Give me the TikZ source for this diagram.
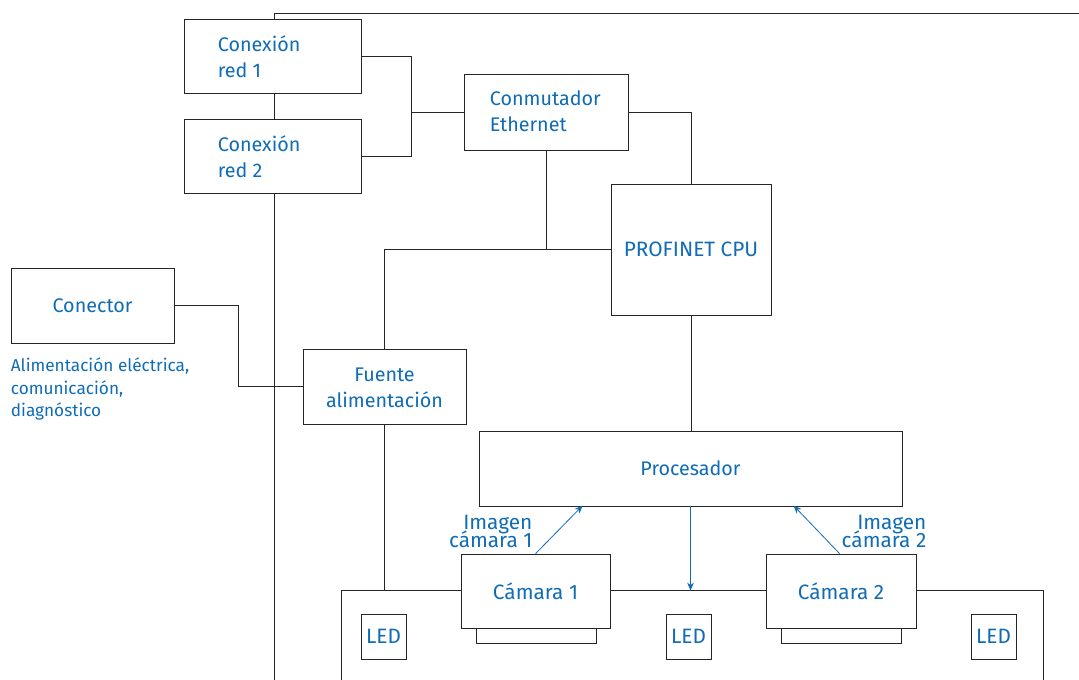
\documentclass[tikz,border=0pt]{standalone}
\usepackage{fontspec}
\setmainfont{Fira Sans}
\usetikzlibrary{arrows.meta}
\definecolor{tblue}{HTML}{0F6CB5}
\tikzset{x=0.75pt,y=-0.75pt,
 box/.style={draw=black!85,line width=0.6pt,fill=white,inner sep=0pt,anchor=north west},
 wire/.style={draw=black!85,line width=0.6pt},
 bwire/.style={draw=tblue,line width=0.6pt,-{Stealth[length=6pt,width=5pt]}},
 txt/.style={text=tblue,font=\fontsize{14.8}{19.5}\selectfont,inner sep=0pt},
 txtw/.style={text=tblue,font=\fontsize{15.6}{19.5}\selectfont,inner sep=0pt},
 lab/.style={text=tblue,font=\fontsize{15.6}{19.5}\selectfont,inner sep=0pt,align=right},
 small/.style={text=tblue,font=\fontsize{12.9}{16.9}\selectfont,inner sep=0pt,align=left,anchor=north west}}
\newcommand{\bx}[5]{\node[box,minimum width=#4*0.75pt,minimum height=#5*0.75pt] (#1) at (#2,#3) {};}
\begin{document}
\begin{tikzpicture}
\useasboundingbox (0.4,0.4) rectangle (1079.4,679.4);
% frame lines
\coordinate (tl) at (275,14); \coordinate (tr) at (1080,14); \coordinate (bl) at (275,680);
\draw[wire] (bl) -- (tl) -- (tr);
\coordinate (la) at (342,680); \coordinate (lb) at (342,591); \coordinate (lc) at (1044,591); \coordinate (ld) at (1044,680);
\draw[wire] (la) -- (lb) -- (lc) -- (ld);
% boxes
\bx{r1}{184}{19}{177}{74}
\bx{r2}{184}{119}{177}{74}
\bx{sw}{464}{74}{164}{76}
\bx{cpu}{611}{184}{160}{131}
\bx{con}{11}{268}{163}{75}
\bx{psu}{303}{349}{163}{75}
\bx{pro}{479}{431}{423}{75}
\bx{lens1}{476}{620}{120}{23}
\bx{lens2}{781}{620}{120}{23}
\bx{cam1}{461}{554}{149}{74}
\bx{cam2}{766}{554}{150}{74}
\bx{led1}{361}{614}{45}{45}
\bx{led2}{666}{614}{45}{45}
\bx{led3}{971}{614}{45}{45}
% box texts
\node[txt,align=left,anchor=west] at (218,57) {Conexión\\red 1};
\node[txt,align=left,anchor=west] at (218,157) {Conexión\\red 2};
\node[txt,align=left,anchor=west] at (490,112) {Conmutador\\Ethernet};
\node[txtw] at (cpu.center) {PROFINET CPU};
\node[txt] at (con.center) {Conector};
\node[txt,align=center] at ([yshift=-1pt]psu.center) {Fuente\\alimentación};
\node[txt] at (pro.center) {Procesador};
\node[txtw] at (cam1.center) {Cámara 1};
\node[txtw] at (cam2.center) {Cámara 2};
\node[txtw] at (led1.center) {LED};
\node[txtw] at (led2.center) {LED};
\node[txtw] at (led3.center) {LED};
\node[small] (note) at (11,358) {Alimentación eléctrica,\\comunicación,\\diagnóstico};
% connectors
\coordinate (xj) at (412,0); \coordinate (xk) at (239,0);
\draw[wire] (r1.east) -| (xj |- r2.east) -- (r2.east);
\draw[wire] (xj |- sw.west) -- (sw.west);
\draw[wire] (sw.east) -| (cpu.north);
\draw[wire] (sw.south) -- (sw.south |- cpu.west);
\draw[wire] (cpu.west) -| (psu.north);
\draw[wire] (con.east) -| (xk |- psu.west) -- (psu.west);
\draw[wire] (cpu.south) -- (cpu.south |- pro.north);
\draw[wire] (psu.south) -- (psu.south |- lb);
\coordinate (a1s) at (536,554); \coordinate (a1e) at (583,506);
\coordinate (a2s) at (840,554); \coordinate (a2e) at (794,506);
\draw[bwire] (a1s) -- (a1e);
\draw[bwire] (a2s) -- (a2e);
\draw[bwire] (pro.south) -- (pro.south |- lc);
% labels
\node[lab,anchor=east] at (533,532) {Imagen\\[-5.5pt]cámara 1};
\node[lab,anchor=east] at (927,532) {Imagen\\[-5.5pt]cámara 2};
\end{tikzpicture}
\end{document}
